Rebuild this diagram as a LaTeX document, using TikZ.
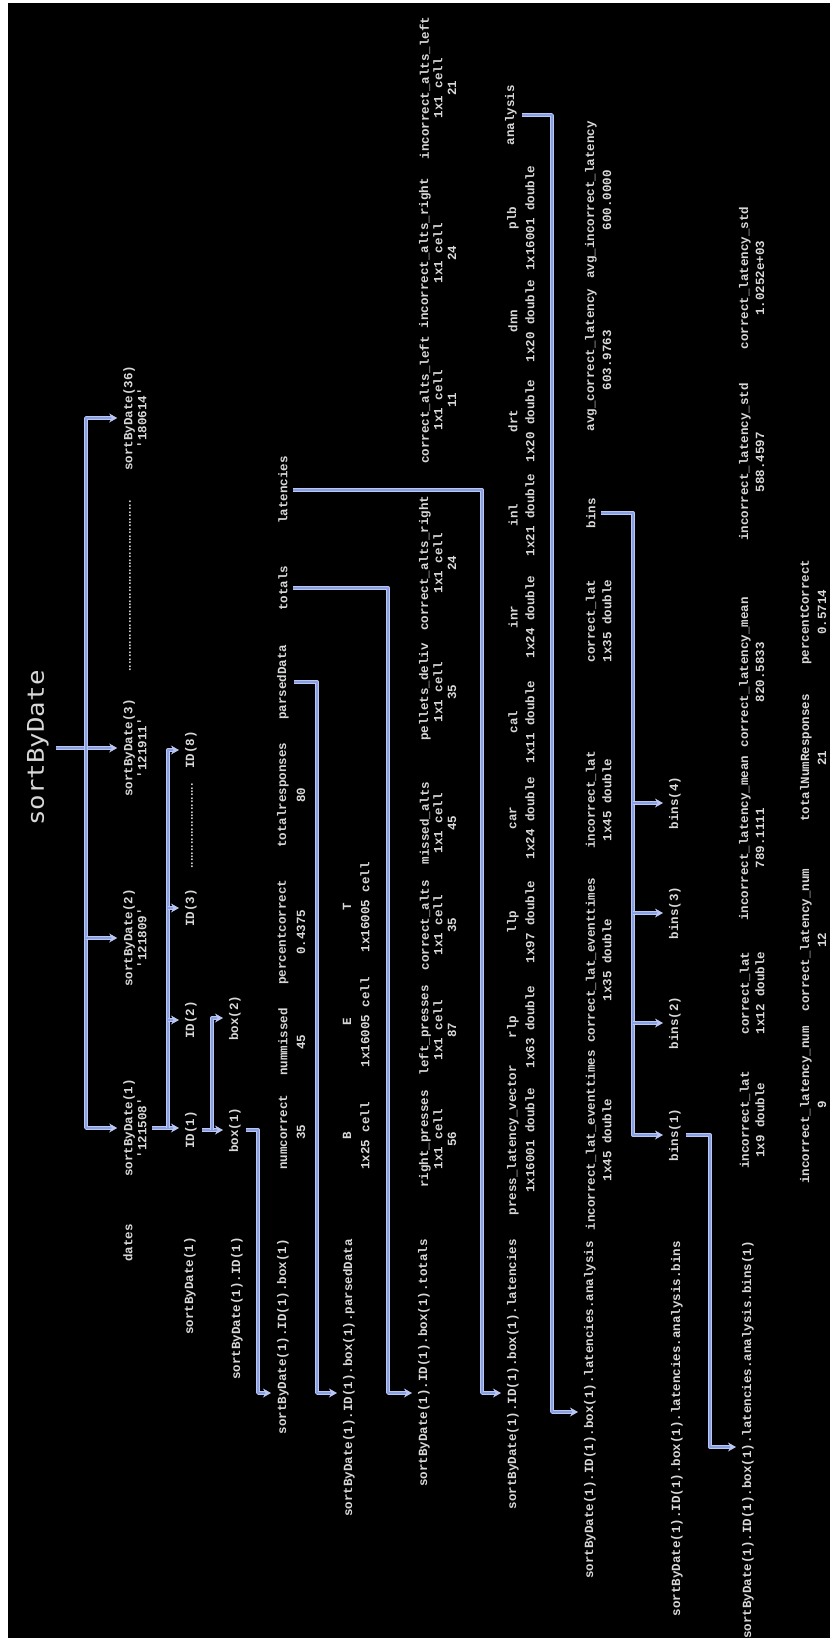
\documentclass[tikz,border=0pt]{standalone}
\usepackage{fontspec}
\setmonofont{Liberation Mono}
\newfontfamily\titlefont{DejaVu Sans Mono}
\newfontfamily\dotfont{DejaVu Sans}
\usetikzlibrary{arrows.meta}
\definecolor{txt}{HTML}{D8D8D8}
\definecolor{lnout}{HTML}{BCC6F2}
\definecolor{lnin}{HTML}{86A0E2}
\tikzset{
  fld/.style={rotate=90, text=txt, font=\ttfamily\bfseries\fontsize{12.5}{14}\selectfont, inner sep=1pt},
  lbl/.style={fld, anchor=east},
  ttl/.style={rotate=90, text=txt, font=\titlefont\fontsize{23}{26}\selectfont, inner sep=1pt},
  dts/.style={rotate=90, text=txt, font=\dotfont\bfseries\fontsize{9}{9}\selectfont, inner sep=0pt},
  bus/.style={draw=lnout, double=lnin, line width=0.8pt, double distance=1.8pt, line join=round},
  conn/.style={bus, -{Stealth[length=8pt,width=9pt]}, shorten >=5pt, shorten <=4pt},
  branch/.style={conn, shorten <=0pt},
  conn2/.style={bus, {Stealth[length=8pt,width=9pt]}-{Stealth[length=8pt,width=9pt]}, shorten >=5pt, shorten <=5pt},
}
\newcommand\fpair[6]{\node[fld] (#1n) at (#3,#2) {#4};\node[fld] (#1v) at (#5,#2) {#6};}
\newcommand\ftrip[4]{\node[fld] (#1n) at (425,#2) {#3};\node[fld] (#1t) at (438,#2) {1x1 cell};\node[fld] (#1v) at (452,#2) {#4};}
\begin{document}
\begin{tikzpicture}[x=1pt,y=-1pt]
\useasboundingbox (0,0) rectangle (830,1641);
\fill[white] (0,0) rectangle (830,1641);
\fill[black] (8,3) rectangle (830,1638);

% helper coordinates
\coordinate (trunk) at (86,0);
\coordinate (idbus) at (168,0);
\coordinate (boxbus) at (212,0);
\coordinate (xBox) at (258,0);
\coordinate (xP) at (317,0);
\coordinate (xT) at (388,0);
\coordinate (xL) at (482,0);
\coordinate (xAn) at (552,0);
\coordinate (xBins) at (633,0);
\coordinate (xB1) at (710,0);
\coordinate (yA) at (0,1393);
\coordinate (yB) at (0,1412);
\coordinate (yC) at (0,1447);

% title
\node[ttl] (title) at (38,748) {\scalebox{1.12}[1]{sortByDate}};

% sortByDate row
\node[fld, align=center] (sd36) at (135,418) {sortByDate(36)\\'180614'};
\node[fld, align=center] (sd3) at (135,748) {sortByDate(3)\\'121911'};
\node[fld, align=center] (sd2) at (135,938) {sortByDate(2)\\'121809'};
\node[fld, align=center] (sd1) at (135,1128) {sortByDate(1)\\'121508'};
\node[dts] (sdDots) at (130,586) {..................................................};

% ID row
\node[fld] (id1) at (191,1130) {ID(1)};
\node[fld] (id2) at (191,1020) {ID(2)};
\node[fld] (id3) at (191,908) {ID(3)};
\node[dts] (idDots) at (192,826) {.........................};
\node[fld] (id8) at (191,750) {ID(8)};

% box row
\node[fld] (box1) at (235,1130) {box(1)};
\node[fld] (box2) at (235,1018) {box(2)};

% labels
\node[fld, anchor=west] (lDates) at (128,1263) {dates};
\node[lbl] (lSd1) at (190,1236) {sortByDate(1)};
\node[lbl] (lId1) at (237,1236) {sortByDate(1).ID(1)};
\node[lbl] (lBox) at (283,1238) {sortByDate(1).ID(1).box(1)};
\node[lbl] (lParsed) at (349,1238) {sortByDate(1).ID(1).box(1).parsedData};
\node[lbl] (lTotals) at (424,1238) {sortByDate(1).ID(1).box(1).totals};
\node[lbl] (lLat) at (513,1238) {sortByDate(1).ID(1).box(1).latencies};
\node[lbl] (lAn) at (590,1240) {sortByDate(1).ID(1).box(1).latencies.analysis};
\node[lbl] (lBins) at (677,1240) {sortByDate(1).ID(1).box(1).latencies.analysis.bins};
\node[lbl] (lB1) at (748,1240) {sortByDate(1).ID(1).box(1).latencies.analysis.bins(1)};

% box(1) fields
\fpair{numc}{1132}{283}{numcorrect}{301}{35}
\fpair{numm}{1042}{283}{nummissed}{301}{45}
\fpair{pc}{932}{283}{percentcorrect}{301}{0.4375}
\fpair{tr}{795}{283}{totalresponses}{301}{80}
\node[fld] (nParsed) at (283,682) {parsedData};
\node[fld] (nTotals) at (283,588) {totals};
\node[fld] (nLat) at (283,490) {latencies};

% parsedData fields
\fpair{pB}{1136}{347}{B}{365}{1x25 cell}
\fpair{pE}{1022}{347}{E}{365}{1x16005 cell}
\fpair{pT}{907}{347}{T}{365}{1x16005 cell}

% totals fields
\ftrip{tRP}{1139}{right\_presses}{56}
\ftrip{tLP}{1030}{left\_presses}{87}
\ftrip{tCA}{925}{correct\_alts}{35}
\ftrip{tMA}{823}{missed\_alts}{45}
\ftrip{tPD}{692}{pellets\_deliv}{35}
\ftrip{tCAR}{563}{correct\_alts\_right}{24}
\ftrip{tCAL}{400}{correct\_alts\_left}{11}
\ftrip{tIAR}{253}{incorrect\_alts\_right}{24}
\ftrip{tIAL}{88}{incorrect\_alts\_left}{21}

% latencies fields
\fpair{lPLV}{1140}{513}{press\_latency\_vector}{530}{1x16001 double}
\fpair{lRLP}{1027}{513}{rlp}{530}{1x63 double}
\fpair{lLLP}{922}{513}{llp}{530}{1x97 double}
\fpair{lCAR}{818}{513}{car}{530}{1x24 double}
\fpair{lCAL}{722}{513}{cal}{530}{1x11 double}
\fpair{lINR}{617}{513}{inr}{530}{1x24 double}
\fpair{lINL}{515}{513}{inl}{530}{1x21 double}
\fpair{lDRT}{421}{513}{drt}{530}{1x20 double}
\fpair{lDNN}{321}{513}{dnn}{530}{1x20 double}
\fpair{lPLB}{218}{513}{plb}{530}{1x16001 double}
\node[fld] (nAnalysis) at (511,115) {analysis};

% analysis fields
\fpair{aILE}{1140}{591}{incorrect\_lat\_eventtimes}{607}{1x45 double}
\fpair{aCLE}{960}{591}{correct\_lat\_eventtimes}{607}{1x35 double}
\fpair{aIL}{800}{591}{incorrect\_lat}{607}{1x45 double}
\fpair{aCL}{621}{591}{correct\_lat}{607}{1x35 double}
\node[fld] (nBins) at (591,513) {bins};
\fpair{aACL}{360}{591}{avg\_correct\_latency}{607}{603.9763}
\fpair{aAIL}{200}{591}{avg\_incorrect\_latency}{607}{600.0000}

% bins row
\node[fld] (bins1) at (675,1135) {bins(1)};
\node[fld] (bins2) at (675,1023) {bins(2)};
\node[fld] (bins3) at (675,913) {bins(3)};
\node[fld] (bins4) at (675,803) {bins(4)};

% bins(1) fields
\fpair{gIL}{1120}{745}{incorrect\_lat}{760}{1x9 double}
\fpair{gCL}{993}{745}{correct\_lat}{760}{1x12 double}
\fpair{gILM}{838}{745}{incorrect\_latency\_mean}{760}{789.1111}
\fpair{gCLM}{672}{745}{correct\_latency\_mean}{760}{820.5833}
\fpair{gILS}{462}{745}{incorrect\_latency\_std}{760}{588.4597}
\fpair{gCLS}{278}{745}{correct\_latency\_std}{760}{1.0252e+03}
\fpair{hILN}{1105}{806}{incorrect\_latency\_num}{822}{9}
\fpair{hCLN}{940}{806}{correct\_latency\_num}{822}{12}
\fpair{hTNR}{758}{806}{totalNumResponses}{822}{21}
\fpair{hPC}{612}{806}{percentCorrect}{822}{0.5714}

% connectors
\draw[conn, shorten <=6pt] (title.south) -- (sd3.north);
\draw[conn2] (sd36.north) -- (sd36.north -| trunk) -- (sd1.north -| trunk) -- (sd1.north);
\draw[branch] (sd2.north -| trunk) -- (sd2.north);

\draw[conn] (sd1.south) -- (sd1.south -| id1.north);
\draw[branch] (sd1.south -| idbus) -- (id8.north -| idbus) -- (id8.north);
\draw[branch] (id2.north -| idbus) -- (id2.north);
\draw[branch] (id3.north -| idbus) -- (id3.north);

\draw[conn] (id1.south) -- (id1.south -| box1.north);
\draw[branch] (id1.south -| boxbus) -- (box2.north -| boxbus) -- (box2.north);

\draw[conn] (box1.south) -- (box1.south -| xBox) -- (xBox |- yA) -- (lBox.north |- yA);
\draw[conn] (nParsed.south) -- (nParsed.south -| xP) -- (xP |- yA) -- (lParsed.north |- yA);
\draw[conn] (nTotals.south) -- (nTotals.south -| xT) -- (xT |- yA) -- (lTotals.north |- yA);
\draw[conn] (nLat.south) -- (nLat.south -| xL) -- (xL |- yA) -- (lLat.north |- yA);
\draw[conn] (nAnalysis.south) -- (nAnalysis.south -| xAn) -- (xAn |- yB) -- (lAn.north |- yB);
\draw[conn] (nBins.south) -- (nBins.south -| xBins) -- (xBins |- bins1.north) -- (bins1.north);
\draw[branch] (bins2.north -| xBins) -- (bins2.north);
\draw[branch] (bins3.north -| xBins) -- (bins3.north);
\draw[branch] (bins4.north -| xBins) -- (bins4.north);
\draw[conn] (bins1.south) -- (bins1.south -| xB1) -- (xB1 |- yC) -- (lB1.north |- yC);
\end{tikzpicture}
\end{document}
